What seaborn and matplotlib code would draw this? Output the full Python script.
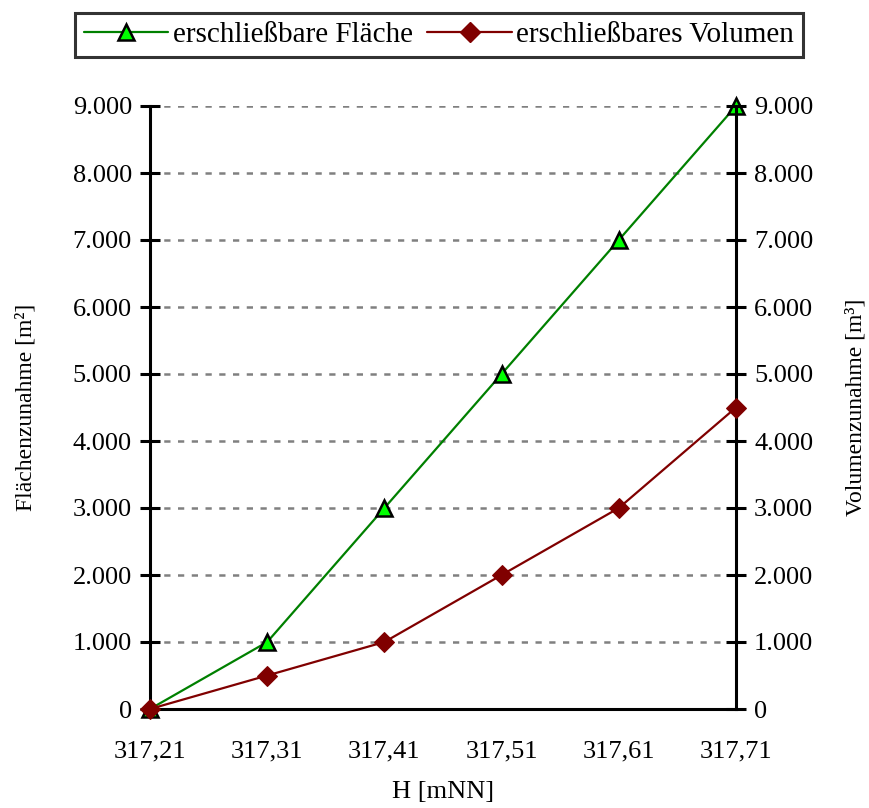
import matplotlib
matplotlib.use("Agg")
import matplotlib.pyplot as plt
import seaborn as sns
import pandas as pd
from matplotlib.lines import Line2D
from matplotlib.ticker import FuncFormatter, FixedLocator

# data
hoehe = [317.21, 317.31, 317.41, 317.51, 317.61, 317.71]
flaeche = [0, 1000, 3000, 5000, 7000, 9000]
volumen = [0, 500, 1000, 2000, 3000, 4500]

df = pd.DataFrame({'H': hoehe, 'Flaeche': flaeche, 'Volumen': volumen})

sns.set_style('white')
plt.rcParams['font.family'] = ['Liberation Serif', 'DejaVu Serif']
plt.rcParams['text.color'] = 'black'
plt.rcParams['axes.labelcolor'] = 'black'
plt.rcParams['xtick.color'] = 'black'
plt.rcParams['ytick.color'] = 'black'

fig = plt.figure(figsize=(8.69, 8.08), dpi=100)
ax = fig.add_axes([150 / 869, 99 / 808, 586 / 869, 603 / 808])
ax2 = ax.twinx()

sns.lineplot(data=df, x='H', y='Flaeche', ax=ax, color='#008000', lw=1.6,
             marker='^', markersize=12, markerfacecolor='#00ff00',
             markeredgecolor='black', markeredgewidth=1.8, clip_on=False, zorder=5)
sns.lineplot(data=df, x='H', y='Volumen', ax=ax2, color='#800000', lw=1.6,
             marker='D', markersize=10, markerfacecolor='#800000',
             markeredgecolor='#800000', clip_on=False, zorder=5)

for a in (ax, ax2):
    a.set_xlim(317.21, 317.71)
    a.set_ylim(0, 9000)
    a.yaxis.set_major_locator(FixedLocator(range(0, 9001, 1000)))
    a.yaxis.set_major_formatter(FuncFormatter(lambda v, p: f'{int(v):,}'.replace(',', '.')))
    a.spines['top'].set_visible(False)
    for s in ('left', 'right', 'bottom'):
        a.spines[s].set_linewidth(2.2)
        a.spines[s].set_color('black')
    a.tick_params(axis='both', direction='inout', length=14, width=2.2,
                  labelsize=19, pad=6, labelcolor='black')
    a.patch.set_visible(False)

ax.spines['right'].set_visible(False)
ax2.spines['left'].set_visible(False)
ax2.spines['bottom'].set_visible(False)

ax.xaxis.set_major_locator(FixedLocator(hoehe))
ax.xaxis.set_major_formatter(FuncFormatter(lambda v, p: f'{v:.2f}'.replace('.', ',')))
ax.tick_params(axis='x', pad=16)

for y in range(1000, 9001, 1000):
    ax.axhline(y, color='#808080', lw=1.8, ls=(0, (2.5, 3)), zorder=0)

ax.set_xlabel('H [mNN]', fontsize=19, labelpad=13)
ax.set_ylabel('Flächenzunahme [m²]', fontsize=17, labelpad=26)
ax2.set_ylabel('Volumenzunahme [m³]', fontsize=17, labelpad=23)

handles = [
    Line2D([], [], color='#008000', lw=1.6, marker='^', markersize=12,
           markerfacecolor='#00ff00', markeredgecolor='black', markeredgewidth=1.8),
    Line2D([], [], color='#800000', lw=1.6, marker='D', markersize=10,
           markerfacecolor='#800000', markeredgecolor='#800000'),
]
leg = fig.legend(handles, ['erschließbare Fläche', 'erschließbares Volumen'],
                 loc='center', bbox_to_anchor=(439 / 869, 1 - 35 / 808), ncol=2,
                 fontsize=21, frameon=True, fancybox=False, edgecolor='black',
                 handlelength=2.9, handletextpad=0.15, columnspacing=0.5,
                 borderpad=0.3, borderaxespad=0)
leg.get_frame().set_linewidth(2.2)

fig.savefig('out.png', dpi=100, facecolor='white')
